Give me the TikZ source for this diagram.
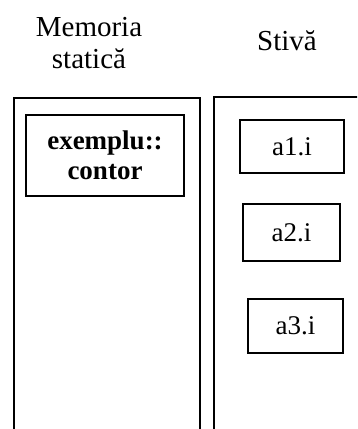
\documentclass[tikz,border=0pt]{standalone}
\usepackage{fontspec}
\setmainfont{Liberation Serif}
\begin{document}
\begin{tikzpicture}[x=1pt,y=-1pt,
  region/.style={line width=1.3pt},
  cell/.style={draw,line width=1.3pt,inner sep=0pt,font=\fontsize{27}{30}\selectfont},
  heading/.style={inner sep=0pt,align=center,font=\fontsize{29}{32}\selectfont}]
\useasboundingbox (0,0) rectangle (357,429);
\clip (0,0) rectangle (357,429);
\draw[region] (14,440) -- (14,98) -- (200,98) -- (200,440);
\draw[region] (214,440) -- (214,97) -- (370,97);
\node[heading,anchor=base] (h1) at (89,68) {Memoria\\statică};
\node[heading,anchor=base] (h2) at (287,50) {Stivă};
\node[cell,font=\fontsize{27}{30}\selectfont\bfseries,align=center,minimum width=158pt,minimum height=81pt] (ex) at (105,155.5) {exemplu::\\contor};
\node[cell,minimum width=104pt,minimum height=53pt] (a1) at (292,146.5) {a1.i};
\node[cell,minimum width=97pt,minimum height=57pt] (a2) at (291.5,232.5) {a2.i};
\node[cell,minimum width=95pt,minimum height=54pt] (a3) at (295.5,326) {a3.i};
\end{tikzpicture}
\end{document}
